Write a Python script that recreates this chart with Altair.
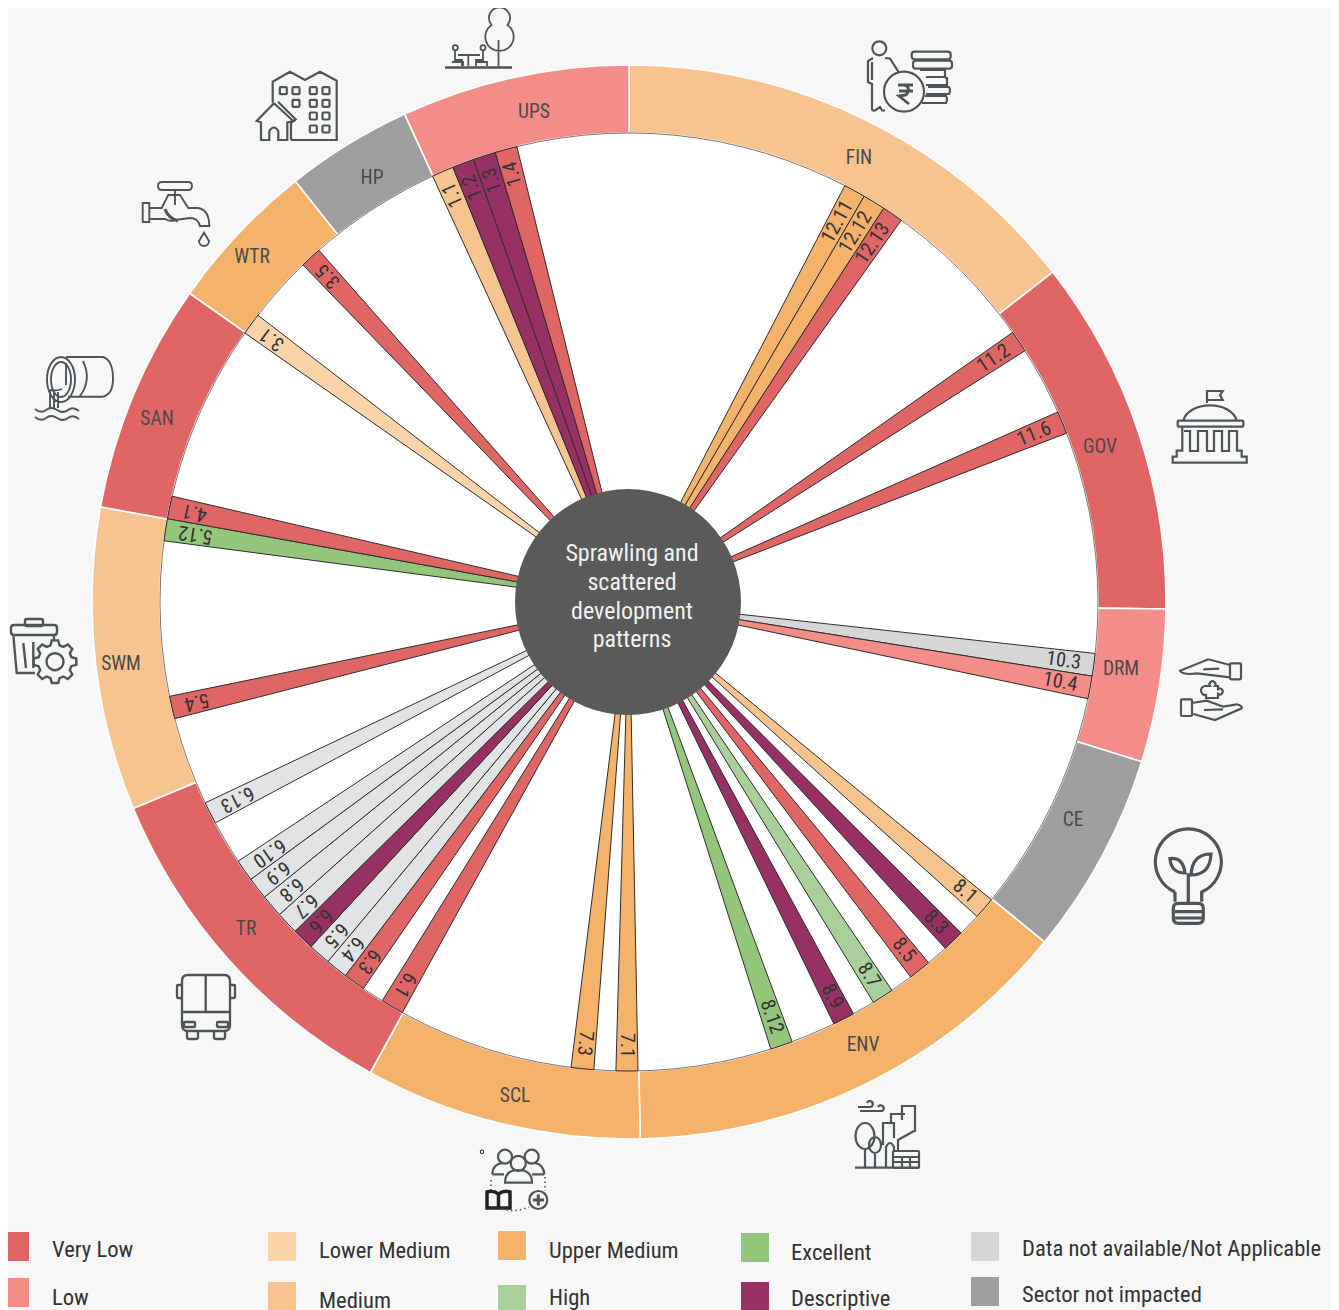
import math
import altair as alt
import pandas as pd

FONT = "Roboto Condensed, Roboto"
BG = "#f7f7f7"
INK = "#4d5559"

RATINGS = ["Very Low", "Low", "Lower Medium", "Medium", "Upper Medium", "Excellent", "High",
           "Descriptive", "Data not available/Not Applicable", "Sector not impacted", "NA light"]
RATING_COLORS = ["#e06666", "#f48c88", "#fbd3a9", "#f7c38f", "#f5b26b", "#93c67b", "#a9d09b",
                 "#973063", "#d6d6d6", "#9e9e9e", "#e1e3e4"]

RING_LABELS = ["FIN", "GOV", "DRM", "CE", "ENV", "SCL", "TR", "SWM", "SAN", "WTR", "HP", "UPS"]
RING_START = [0, 52.1, 90.75, 107.3, 129.3, 178.8, 208.8, 247.4, 280.2, 305.1, 321.6, 335.3]
RING_END = [52.1, 90.75, 107.3, 129.3, 178.8, 208.8, 247.4, 280.2, 305.1, 321.6, 335.3, 360]
RING_RATING = ["Medium", "Very Low", "Low", "Sector not impacted", "Upper Medium", "Upper Medium",
               "Very Low", "Medium", "Very Low", "Upper Medium", "Sector not impacted", "Low"]
RING_TEXT_X = [859, 1100, 1121, 1073, 863, 515, 246, 121, 157, 252, 372, 534]
RING_TEXT_Y = [158, 447, 669, 820, 1045, 1096, 929, 664, 419, 257, 178, 112]

WEDGE_LABELS = ["12.11", "12.12", "12.13", "11.2", "11.6", "10.3", "10.4", "8.1", "8.3", "8.5", "8.7", "8.9",
                "8.12", "7.1", "7.3", "6.1", "6.3", "6.4", "6.5", "6.6", "6.7", "6.8", "6.9", "6.10", "6.13",
                "5.4", "5.12", "4.1", "3.1", "3.5", "1.1", "1.2", "1.3", "1.4"]
WEDGE_START = [27.4, 30.1, 32.9, 54.9, 66.1, 96.3, 99.1, 129.4, 134.9, 140.3, 145.9, 151.4,
               159.65, 178.9, 184.3, 208.9, 214.5, 217.2, 219.95, 222.7, 225.4, 228.2, 231.0, 233.75, 241.9,
               255.6, 277.5, 280.24, 305.0, 315.95, 335.24, 337.95, 340.65, 343.43]
WEDGE_END = [30.1, 32.9, 35.5, 57.6, 68.9, 99.1, 101.9, 132.1, 137.6, 143.1, 148.6, 154.1,
             162.4, 181.6, 187.1, 211.75, 217.2, 219.95, 222.7, 225.4, 228.2, 231.0, 233.75, 236.45, 244.64,
             258.4, 280.24, 283.04, 307.7, 318.6, 337.95, 340.65, 343.43, 346.17]
WEDGE_RATING = ["Upper Medium", "Upper Medium", "Very Low", "Very Low", "Very Low",
                "Data not available/Not Applicable", "Low", "Medium", "Descriptive", "Very Low", "High",
                "Descriptive", "Excellent", "Upper Medium", "Upper Medium", "Very Low", "Very Low",
                "NA light", "NA light", "Descriptive", "NA light", "NA light", "NA light", "NA light", "NA light",
                "Very Low", "Excellent", "Very Low", "Lower Medium", "Very Low", "Medium",
                "Descriptive", "Descriptive", "Very Low"]

HUB_LINES = ["Sprawling and", "scattered", "development", "patterns"]
HUB_Y = [554, 583, 612, 640]

LEGEND_NAMES = ["Very Low", "Low", "Lower Medium", "Medium", "Upper Medium", "High", "Excellent", "Descriptive",
                "Data not available/Not Applicable", "Sector not impacted"]
LEGEND_X0 = [1, 1, 268, 268, 498, 498, 741, 741, 971, 971]
LEGEND_Y0 = [1232, 1278, 1232, 1282, 1231, 1285, 1233, 1282, 1232, 1277]
LEGEND_TX = [52, 52, 319, 319, 549, 549, 791, 791, 1022, 1022]
LEGEND_TY = [1250, 1298, 1251, 1301, 1251, 1298, 1253, 1299, 1249, 1295]


def circ(cx, cy, r):
    return f"M{cx-r},{cy}a{r},{r} 0 1,0 {2*r},0a{r},{r} 0 1,0 {-2*r},0Z"


def rr(x0, y0, x1, y1, r=2):
    return (f"M{x0+r},{y0}H{x1-r}Q{x1},{y0} {x1},{y0+r}V{y1-r}Q{x1},{y1} {x1-r},{y1}"
            f"H{x0+r}Q{x0},{y1} {x0},{y1-r}V{y0+r}Q{x0},{y0} {x0+r},{y0}Z")


def gear(cx, cy, r0, r1, n=8):
    pts = []
    for i in range(n):
        c = 2 * math.pi * i / n
        for d, r in ((-0.27, r0), (-0.15, r1), (0.15, r1), (0.27, r0)):
            pts.append((cx + r * math.sin(c + d), cy - r * math.cos(c + d)))
    return "M" + "L".join(f"{a:.1f},{b:.1f}" for a, b in pts) + "Z"


ICON_UPS = ("M491.5,25A10.6,10.6 0 1 1 507.5,25A14.2,14.2 0 1 1 491.5,25Z M498.5,40V67 "
            + circ(455.3, 47.7, 2.5) + circ(483, 47.7, 2.5)
            + "M458,55H480 M468.3,55V66 M455,51V60H462V66 M483,51V60H476V66 M452,62H463V66 M476,62H487V66")
ICON_UPS_BASE = "M445,67.5H512"
ICON_FIN = (circ(879.3, 48.3, 7) + "M873,58L868,61V82L872,84V109Q872,111 875,110.5L880,107L882,110.5H885 "
            "M885,58L890,58.5L898.3,71.7 M872,62V80 " + circ(904, 91.7, 20)
            + rr(911.7, 51.7, 950.7, 59.3, 3) + rr(913, 60.7, 952, 68.7, 3)
            + "M920,70H945V77H926 M945,78H947V85H926 M928,87H949Q951,90 949,94H926 M925,96H946Q948,99 946,103H922")
ICON_RUPEE = "M898,85H913 M899,91H913 M904,85Q912,88 906,95L899,96L909,104"
ICON_GOV = ("M1207,403V391H1222.7L1220,395L1222.7,400H1207 M1183.3,420.7A27,18 0 0 1 1236.7,420.7 "
            + rr(1177.7, 420.7, 1243.3, 426.7, 1)
            + "M1182.3,427V450.7H1176.7V456.7H1172.7V462.7H1246.7V456.7H1241.7V450.7H1237V431H1229V451H1222V431"
              "H1214V451H1207V431H1198V451H1190V431H1184")
ICON_DRM = (rr(1230, 663.3, 1241, 679.3, 1)
            + "M1230,665L1208.3,659.3L1180,670.7Q1182,674 1190,674L1197,673.3L1230,677.3 M1203.3,669.3L1219.3,668.7 "
              "M1205,686h5a3,3 0 1,1 5,0h3v3a3,3 0 1,1 0,5v4h-12v-3a3,3 0 1,1 -1,-9z "
            + rr(1181, 699.3, 1192, 716, 1)
            + "M1192,703L1206.7,700.7L1223.3,706.7L1236.7,704.3Q1243,706 1241.7,708.3L1215,720L1193.3,714 "
              "M1204,710L1223,709.3")
ICON_CE = ("M1175,892A33,33 0 1 1 1201.7,892V901.7 M1175,892V901.7 M1188.3,873.3V901.7 "
           + rr(1173.3, 903.3, 1203.3, 923.3, 5)
           + "M1175,911.7H1202 M1175,918H1202 "
             "M1170,858.5Q1183,857 1185,873Q1171,873 1170,858.5Z M1211,854Q1192,854 1191,875Q1210,875 1211,854Z")
ICON_ENV = ("M855,1167.7H918 M865,1167V1148 M875,1167V1152 M865,1123A9.5,13 0 1 0 865,1149A9.5,13 0 1 0 865,1123Z "
            "M875,1137A6,8 0 1 0 875,1153A6,8 0 1 0 875,1137Z M902,1120V1106H915V1132 M891,1123V1114H905 "
            "M883,1145V1123H894V1138 M914,1131L898,1140V1151 M886,1167V1147Q890,1139 894,1147V1151 "
            + rr(893, 1151, 919, 1168, 1)
            + "M894,1157H918 M894,1162H918 M902,1157V1167 M910,1157V1167 "
              "M860,1111H882a3,3 0 1,0 -4,-4 M858,1107H870a3,3 0 1,0 -3,-4")
ICON_SCL = (circ(505, 1156.7, 7) + circ(531.7, 1156.7, 7) + circ(518.3, 1163.3, 7.5)
            + "M505,1182.7Q505,1170 518.3,1170Q532,1170 532,1182.7Z "
              "M492.3,1174.3Q492,1165 502,1163 M544.3,1174.3Q544,1165 535,1163 M492.3,1174.3H504 M544.3,1174.3H532 "
            + circ(538.3, 1200, 9))
ICON_SCL_PLUS = "M533,1200H544 M538.3,1194.5V1205.5"
ICON_SCL_DOTS = "M491,1180V1190 M545,1177V1191 M502,1209Q515,1213 529,1207"
ICON_BOOK = ("M487,1192Q493,1190 498.5,1194Q504,1190 510,1192V1208H487Z M498.5,1194V1208 M487,1208H510"
             + circ(482, 1151.7, 0.5))
ICON_TR = (rr(182, 975, 230, 1031, 6) + "M205.7,975V1012 M182,1012H230 "
           + rr(230, 985, 235, 998, 1) + rr(177, 985, 182, 998, 1)
           + rr(217, 1022, 228, 1027, 1) + rr(184, 1022, 195, 1027, 1)
           + "M187,1031V1037Q187,1039 189,1039H196Q198,1039 198,1037V1031 "
             "M214,1031V1037Q214,1039 216,1039H223Q225,1039 225,1037V1031")
ICON_SWM = (rr(25, 619, 43, 626, 2) + rr(11, 625, 57, 635, 3)
            + "M13.3,635L16.7,673H35 M54,635V640 M23.3,643L26,668 M33.3,642V668 "
            + gear(55, 661.7, 17, 21.5) + circ(55, 661.7, 8.5))
ICON_SAN = ("M61,357A14,22.5 0 1 0 61,402A14,22.5 0 1 0 61,357Z M61,362A10,17.5 0 1 0 61,397A10,17.5 0 1 0 61,362Z "
            "M66,357H103Q113,360 113,379Q113,394 103,396.7H68 M83,361Q92,380 80,396 "
            "M50,390V408 M54,391V408 M58,392V408 M62,389Q58,391 50,390 M66,385V363 "
            "M35,409q6,5 11,1t11,0t11,0t11,1 M35,417q6,5 11,1t11,0t11,0t11,1")
ICON_WTR = (rr(158, 182, 192, 190, 4) + "M175,190V205 M142.7,203H149.3V222H142.7Z "
            "M149.3,208H161.7L168.3,195H180L188.3,208H198.3Q209.3,210 209.3,226H200Q198,218 190,218"
            "L175,220Q170,222 165,219H149.3 M204,232.7L199,241A5,5 0 1 0 209,241Z")
ICON_WTR_DARK = "M165,209Q168,218 178,221"
ICON_HP = ("M291,140H336.7V80.7L320,71.7L305,80L290,71.7L272.7,81.7V102.7 "
           "M274,103.3L256.7,121L261,122.3V140H269.3V131Q274,124 278.3,131V140H287.3V122.3L293.3,121L274,103.3 "
           "M278,101.7L295.7,119.3L291,123V140 "
           + "".join(rr(x - 3.5, y - 3.5, x + 3.5, y + 3.5, 1) for x, y in
                     [(283.3, 90.7), (296, 90.7), (313.3, 90.7), (326, 90.7), (296, 103.3), (313.3, 103.3),
                      (326, 103.3), (313.3, 116), (326, 116), (313.3, 129), (326, 129)]))

ICON_PATHS = [ICON_UPS, ICON_UPS_BASE, ICON_FIN, ICON_RUPEE, ICON_GOV, ICON_DRM, ICON_CE, ICON_ENV, ICON_SCL,
              ICON_SCL_PLUS, ICON_BOOK, ICON_TR, ICON_SWM, ICON_SAN, ICON_WTR, ICON_WTR_DARK, ICON_HP]
ICON_WIDTH = [1.8, 2.5, 2.2, 2.8, 2.2, 2.2, 3.2, 2.2, 2.2, 3, 3.5, 2.3, 2.4, 1.9, 1.9, 3, 2.2]
ICON_STROKE = [INK] * 10 + ["#222222"] + [INK] * 6

XS = alt.Scale(domain=[8, 1331], range=[0, 1323], nice=False)
YS = alt.Scale(domain=[8, 1310], range=[0, 1302], nice=False)
RS = alt.Scale(type="linear", domain=[0, 537], range=[0, 537], nice=False)
TS = alt.Scale(type="linear", domain=[0, 360], range=[0, 2 * math.pi], nice=False)
CS = alt.Scale(domain=RATINGS, range=RATING_COLORS)
X = lambda f: alt.X(f, scale=XS, axis=None)
Y = lambda f: alt.Y(f, scale=YS, axis=None)

ring = pd.DataFrame({"label": RING_LABELS, "a0": RING_START, "a1": RING_END, "rating": RING_RATING,
                     "tx": RING_TEXT_X, "ty": RING_TEXT_Y, "cx": 629, "cy": 602, "r0": 469, "r1": 537})
wedge = pd.DataFrame({"label": WEDGE_LABELS, "a0": WEDGE_START, "a1": WEDGE_END, "rating": WEDGE_RATING,
                      "cx": 629, "cy": 602, "r0": 0, "r1": 469})
wedge["mid"] = (wedge.a0 + wedge.a1) / 2
wedge["rot"] = (wedge.mid - 90) % 360
wedge["rt"] = 456
disk = pd.DataFrame({"cx": [629], "cy": [602], "r0": [0], "r1": [469], "a0": [0], "a1": [360]})
hub = pd.DataFrame({"cx": [628], "cy": [602], "r0": [0], "r1": [113], "a0": [0], "a1": [360]})
hubtext = pd.DataFrame({"t": HUB_LINES, "y": HUB_Y, "x": 632})
legend = pd.DataFrame({"name": LEGEND_NAMES, "x0": LEGEND_X0, "y0": LEGEND_Y0, "tx": LEGEND_TX, "ty": LEGEND_TY})
legend["x1"] = legend.x0 + 28
legend["y1"] = legend.y0 + 29
icons = pd.DataFrame({"p": ICON_PATHS, "w": ICON_WIDTH, "c": ICON_STROKE, "x": 0, "y": 0})
dots = pd.DataFrame({"p": [ICON_SCL_DOTS], "x": [0], "y": [0]})


def arc_enc():
    return dict(x=X("cx:Q"), y=Y("cy:Q"),
                theta=alt.Theta("a0:Q", scale=TS, stack=None), theta2="a1:Q",
                radius=alt.Radius("r1:Q", scale=RS), radius2="r0:Q")


ring_l = alt.Chart(ring).mark_arc(stroke="#ffffff", strokeWidth=1.6).encode(
    color=alt.Color("rating:N", scale=CS, legend=None), **arc_enc())
disk_l = alt.Chart(disk).mark_arc(fill="#ffffff", stroke="#555555", strokeWidth=0.8).encode(**arc_enc())
wedge_l = alt.Chart(wedge).mark_arc(stroke="#2e2e2e", strokeWidth=1.0).encode(
    color=alt.Color("rating:N", scale=CS, legend=None), **arc_enc())
hub_l = alt.Chart(hub).mark_arc(fill="#5a5a5a").encode(**arc_enc())
ring_t = alt.Chart(ring).mark_text(font=FONT, fontSize=19.5, color="#4a4a4a").encode(
    x=X("tx:Q"), y=Y("ty:Q"), text="label:N")
wedge_t = alt.Chart(wedge).mark_text(font=FONT, fontSize=20, color="#333333", align="right", baseline="middle").encode(
    x=X("cx:Q"), y=Y("cy:Q"),
    theta=alt.Theta("mid:Q", scale=TS, stack=None), radius=alt.Radius("rt:Q", scale=RS),
    angle=alt.Angle("rot:Q", scale=None), text="label:N")
hub_t = alt.Chart(hubtext).mark_text(font=FONT, fontSize=24, color="#f2f2f2").encode(
    x=X("x:Q"), y=Y("y:Q"), text="t:N")
leg_sq = alt.Chart(legend).mark_rect().encode(
    x=X("x0:Q"), x2="x1:Q", y=Y("y0:Q"), y2="y1:Q", color=alt.Color("name:N", scale=CS, legend=None))
leg_tx = alt.Chart(legend).mark_text(font=FONT, fontSize=22.6, color="#333333", align="left").encode(
    x=X("tx:Q"), y=Y("ty:Q"), text="name:N")
icon_l = alt.Chart(icons).mark_point(filled=False, opacity=1, fillOpacity=0).encode(
    x=X("x:Q"), y=Y("y:Q"), shape=alt.Shape("p:N", scale=None), size=alt.value(4),
    stroke=alt.Stroke("c:N", scale=None), strokeWidth=alt.StrokeWidth("w:Q", scale=None))
dots_l = alt.Chart(dots).mark_point(filled=False, opacity=1, fillOpacity=0, strokeDash=[1.5, 3], stroke=INK,
                                    strokeWidth=1.6).encode(
    x=X("x:Q"), y=Y("y:Q"), shape=alt.Shape("p:N", scale=None), size=alt.value(4))

chart = alt.layer(ring_l, disk_l, wedge_l, hub_l, ring_t, wedge_t, hub_t, leg_sq, leg_tx, icon_l, dots_l).properties(
    width=1323, height=1302, padding=0, background=BG,
    autosize=alt.AutoSizeParams(type="none"),
).configure_view(stroke=None)

chart.save("out.html", embed_options={"renderer": "svg", "actions": False})
